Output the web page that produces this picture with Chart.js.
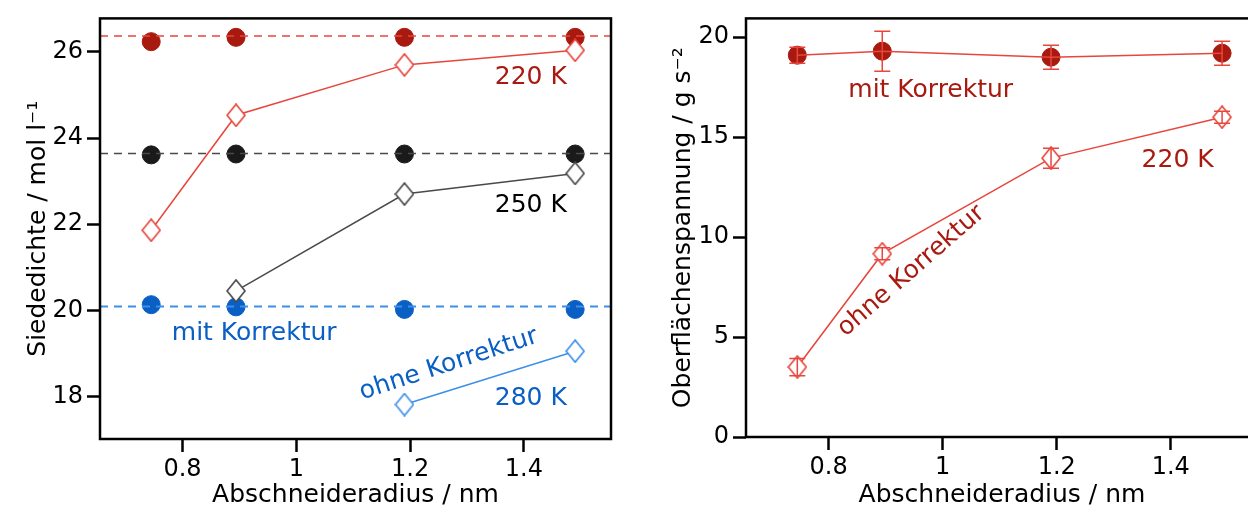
<!DOCTYPE html>
<html>
<head>
<meta charset="utf-8">
<script src="https://cdn.jsdelivr.net/npm/chart.js@4"></script>
<style>
  html, body { margin: 0; padding: 0; background: #fff; overflow: hidden; width: 1248px; height: 510px; }
  #left { position: absolute; left: 0; top: 0; }
  #right { position: absolute; left: 640px; top: 0; }
</style>
</head>
<body>
<canvas id="left" width="630" height="510"></canvas>
<canvas id="right" width="640" height="510"></canvas>
<script>
// Abschneideradius / nm
const radius = [0.745, 0.894, 1.19, 1.49];

// Siededichte / mol l^-1
const rho220mit = [26.24, 26.34, 26.34, 26.34];
const rho220ohne = [21.86, 24.53, 25.70, 26.04];
const rho250mit = [23.61, 23.63, 23.63, 23.63];
const rho250ohne = [null, 20.45, 22.70, 23.18];
const rho280mit = [20.13, 20.08, 20.02, 20.02];
const rho280ohne = [null, null, 17.81, 19.05];
const rhoRef = [26.37, 23.64, 20.09];   // gestrichelte Referenzlinien 220 / 250 / 280 K

// Oberflächenspannung / g s^-2 (220 K)
const gammaMit = [19.1, 19.3, 19.0, 19.2];
const gammaMitErr = [0.4, 1.0, 0.6, 0.6];
const gammaOhne = [3.5, 9.17, 13.95, 16.0];
const gammaOhneErr = [0.43, 0.3, 0.5, 0.3];

// ticks
const xTicks = [0.8, 1, 1.2, 1.4];
const rhoTicks = [18, 20, 22, 24, 26];
const gammaTicks = [0, 5, 10, 15, 20];

const X_MIN = 0.655, X_MAX = 1.553;

const DARKRED = "#a8190f", RED = "#e8463c";
const BLACK = "#1a1a1a", GREY = "#4a4a4a";
const BLUE = "#0a5fc4", LIGHTBLUE = "#3d8fe8";
const FONT = "'DejaVu Sans', sans-serif";

function pts(vals) {
    return radius.map((r, i) => ({ x: r, y: vals[i] })).filter(p => p.y !== null);
}

// open diamond, a bit taller than wide
function diamond(color) {
    const c = document.createElement("canvas");
    c.width = 20; c.height = 24;
    const g = c.getContext("2d");
    g.beginPath();
    g.moveTo(10, 1); g.lineTo(19, 12); g.lineTo(10, 23); g.lineTo(1, 12); g.closePath();
    g.fillStyle = "#fff"; g.fill();
    g.lineWidth = 1.7; g.strokeStyle = color; g.stroke();
    return c;
}

function dotSet(vals, color) {
    return {
        data: pts(vals), showLine: false, pointStyle: "circle",
        pointRadius: 9, pointBackgroundColor: color, pointBorderColor: color, pointBorderWidth: 1
    };
}
function diaSet(vals, color, extra) {
    return Object.assign({
        data: pts(vals), showLine: true, borderColor: color, borderWidth: 1.5,
        pointStyle: diamond(color), pointRadius: 10
    }, extra || {});
}
function dashSet(v, color, w) {
    return {
        data: [{ x: X_MIN, y: v }, { x: X_MAX, y: v }], showLine: true,
        borderColor: color, borderWidth: w, borderDash: [8, 6], pointRadius: 0
    };
}

const frame = {
    id: "frame",
    afterDraw(chart) {
        const { ctx, chartArea: a } = chart;
        ctx.save();
        ctx.strokeStyle = "#000";
        ctx.lineWidth = 2.5;
        ctx.strokeRect(a.left, a.top, a.right - a.left, a.bottom - a.top);
        ctx.restore();
    }
};

function notes(items) {
    return {
        id: "notes",
        afterDatasetsDraw(chart) {
            const { ctx, scales: { x, y } } = chart;
            items.forEach(n => {
                ctx.save();
                ctx.translate(x.getPixelForValue(n.x), y.getPixelForValue(n.y));
                ctx.rotate(n.rot * Math.PI / 180);
                ctx.font = "25px " + FONT;
                ctx.fillStyle = n.color;
                ctx.textAlign = "center";
                ctx.textBaseline = "middle";
                ctx.fillText(n.text, 0, 0);
                ctx.restore();
            });
        }
    };
}

function errBars(sets) {
    return {
        id: "errbars",
        afterDatasetsDraw(chart) {
            const { ctx, scales: { x, y } } = chart;
            ctx.save();
            ctx.strokeStyle = RED;
            ctx.lineWidth = 1.5;
            sets.forEach(s => {
                radius.forEach((r, i) => {
                    const px = x.getPixelForValue(r);
                    const y1 = y.getPixelForValue(s.vals[i] + s.err[i]);
                    const y2 = y.getPixelForValue(s.vals[i] - s.err[i]);
                    ctx.beginPath();
                    ctx.moveTo(px, y1); ctx.lineTo(px, y2);
                    ctx.moveTo(px - 8, y1); ctx.lineTo(px + 8, y1);
                    ctx.moveTo(px - 8, y2); ctx.lineTo(px + 8, y2);
                    ctx.stroke();
                });
            });
            ctx.restore();
        }
    };
}

function axes(yMin, yMax, yTicks, yTitle, yWidth, xHeight, yTitlePad) {
    const tickFont = { family: FONT, size: 24 };
    const titleFont = { family: FONT, size: 25 };
    const grid = { drawOnChartArea: false, drawTicks: true, tickLength: 13, tickWidth: 2.5, tickColor: "#000" };
    return {
        x: {
            type: "linear", min: X_MIN, max: X_MAX,
            afterBuildTicks: s => { s.ticks = xTicks.map(v => ({ value: v })); },
            afterFit: s => { s.height = xHeight; },
            ticks: { font: tickFont, color: "#000", padding: 3, maxRotation: 0, callback: v => String(v) },
            grid: grid,
            border: { display: false },
            title: { display: true, text: "Abschneideradius / nm", font: titleFont, color: "#000", padding: { top: 0, bottom: 0 } }
        },
        y: {
            type: "linear", min: yMin, max: yMax,
            afterBuildTicks: s => { s.ticks = yTicks.map(v => ({ value: v })); },
            afterFit: s => { s.width = yWidth; },
            ticks: { font: tickFont, color: "#000", padding: 4, callback: v => String(v) },
            grid: grid,
            border: { display: false },
            title: { display: true, text: yTitle, font: titleFont, color: "#000", padding: { top: yTitlePad, bottom: 0 } }
        }
    };
}

const common = {
    responsive: false,
    animation: false,
    events: [],
    plugins: { legend: { display: false }, tooltip: { enabled: false } }
};

new Chart(document.getElementById("left"), {
    type: "scatter",
    data: {
        datasets: [
            dashSet(rhoRef[0], RED, 1.5),
            dashSet(rhoRef[1], GREY, 1.5),
            dashSet(rhoRef[2], LIGHTBLUE, 2),
            diaSet(rho220ohne, RED),
            diaSet(rho250ohne, GREY),
            diaSet(rho280ohne, LIGHTBLUE),
            dotSet(rho220mit, DARKRED),
            dotSet(rho250mit, BLACK),
            dotSet(rho280mit, BLUE)
        ]
    },
    options: Object.assign({}, common, {
        layout: { padding: { top: 15, right: 19, left: 0, bottom: 0 } },
        scales: axes(17.01, 26.78, rhoTicks, "Siededichte / mol l\u207B\u00B9", 100, 71, 23)
    }),
    plugins: [frame, notes([
        { text: "220 K", x: 1.412, y: 25.40, rot: 0, color: DARKRED },
        { text: "250 K", x: 1.412, y: 22.44, rot: 0, color: "#000" },
        { text: "mit Korrektur", x: 0.926, y: 19.45, rot: 0, color: BLUE },
        { text: "ohne Korrektur", x: 1.268, y: 18.74, rot: -18, color: BLUE },
        { text: "280 K", x: 1.412, y: 17.95, rot: 0, color: BLUE }
    ])]
});

new Chart(document.getElementById("right"), {
    type: "scatter",
    data: {
        datasets: [
            diaSet(gammaMit, RED, { pointRadius: 0 }),
            dotSet(gammaMit, DARKRED),
            diaSet(gammaOhne, RED)
        ]
    },
    options: Object.assign({}, common, {
        layout: { padding: { top: 15, right: 22, left: 0, bottom: 0 } },
        scales: axes(0, 20.94, gammaTicks, "Oberfl\u00E4chenspannung / g s\u207B\u00B2", 106, 73, 28)
    }),
    plugins: [frame, errBars([
        { vals: gammaMit, err: gammaMitErr },
        { vals: gammaOhne, err: gammaOhneErr }
    ]), notes([
        { text: "mit Korrektur", x: 0.979, y: 17.32, rot: 0, color: DARKRED },
        { text: "220 K", x: 1.412, y: 13.85, rot: 0, color: DARKRED },
        { text: "ohne Korrektur", x: 0.945, y: 8.3, rot: -41, color: DARKRED }
    ])]
});
</script>
</body>
</html>
